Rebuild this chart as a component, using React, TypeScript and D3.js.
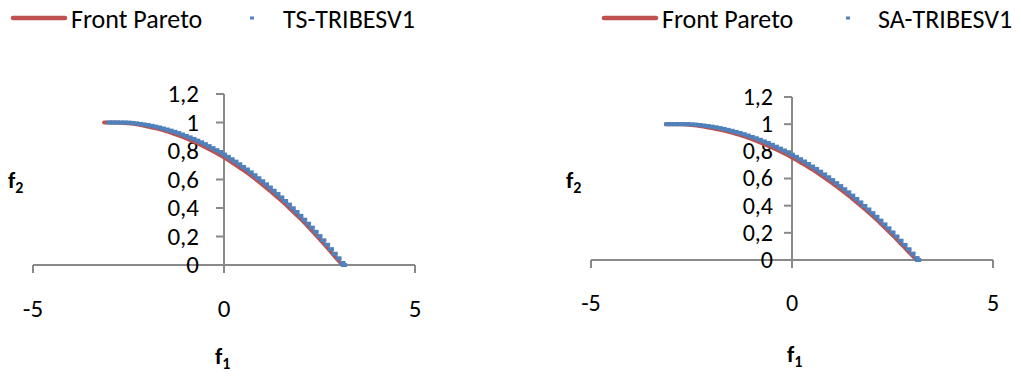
import React from "react";
import * as d3 from "d3";

const W = 1021;
const H = 381;

// Front Pareto [f1, f2]
const frontX = [-3.14, -3.0, -2.75, -2.5, -2.25, -2.0, -1.75, -1.5, -1.25, -1.0, -0.75, -0.5, -0.25, 0, 0.25, 0.5, 0.75, 1.0, 1.25, 1.5, 1.75, 2.0, 2.25, 2.5, 2.75, 3.0, 3.1];
const frontY = [1.0, 1.0, 0.999, 0.994, 0.985, 0.972, 0.957, 0.938, 0.915, 0.89, 0.861, 0.828, 0.793, 0.755, 0.712, 0.667, 0.618, 0.566, 0.51, 0.452, 0.39, 0.325, 0.256, 0.183, 0.107, 0.03, 0.0];

// TS-TRIBESV1 solutions
const tsX = [-3.0, -2.9, -2.8, -2.7, -2.6, -2.5, -2.4, -2.3, -2.2, -2.1, -2.0, -1.9, -1.8, -1.7, -1.6, -1.5, -1.4, -1.3, -1.2, -1.1, -1.0, -0.9, -0.8, -0.7, -0.6, -0.5, -0.4, -0.3, -0.2, -0.1, 0.0, 0.1, 0.2, 0.3, 0.4, 0.5, 0.6, 0.7, 0.8, 0.9, 1.0, 1.1, 1.2, 1.3, 1.4, 1.5, 1.6, 1.7, 1.8, 1.9, 2.0, 2.1, 2.2, 2.3, 2.4, 2.5, 2.6, 2.7, 2.8, 2.9, 3.0, 3.1, 3.14];
const tsY = [1.0, 1.0, 1.0, 1.0, 1.0, 0.999, 0.997, 0.994, 0.99, 0.986, 0.982, 0.977, 0.971, 0.965, 0.958, 0.951, 0.943, 0.935, 0.926, 0.916, 0.906, 0.896, 0.885, 0.873, 0.861, 0.848, 0.834, 0.82, 0.806, 0.791, 0.775, 0.759, 0.742, 0.725, 0.707, 0.688, 0.67, 0.65, 0.63, 0.609, 0.588, 0.566, 0.544, 0.521, 0.498, 0.474, 0.449, 0.424, 0.398, 0.372, 0.345, 0.318, 0.29, 0.262, 0.233, 0.203, 0.173, 0.142, 0.111, 0.079, 0.047, 0.014, 0.0];

// SA-TRIBESV1 solutions
const saX = [-3.1, -3.0, -2.9, -2.8, -2.7, -2.6, -2.5, -2.4, -2.3, -2.2, -2.1, -2.0, -1.9, -1.8, -1.7, -1.6, -1.5, -1.4, -1.3, -1.2, -1.1, -1.0, -0.9, -0.8, -0.7, -0.6, -0.5, -0.4, -0.3, -0.2, -0.1, 0.0, 0.1, 0.2, 0.3, 0.4, 0.5, 0.6, 0.7, 0.8, 0.9, 1.0, 1.1, 1.2, 1.3, 1.4, 1.5, 1.6, 1.7, 1.8, 1.9, 2.0, 2.1, 2.2, 2.3, 2.4, 2.5, 2.6, 2.7, 2.8, 2.9, 3.0, 3.1, 3.14];
const saY = [1.0, 1.0, 1.0, 1.0, 1.0, 1.0, 0.999, 0.997, 0.994, 0.99, 0.986, 0.982, 0.977, 0.971, 0.965, 0.958, 0.951, 0.943, 0.935, 0.926, 0.916, 0.906, 0.896, 0.885, 0.873, 0.861, 0.848, 0.834, 0.82, 0.806, 0.791, 0.775, 0.759, 0.742, 0.725, 0.707, 0.688, 0.67, 0.65, 0.63, 0.609, 0.588, 0.566, 0.544, 0.521, 0.498, 0.474, 0.449, 0.424, 0.398, 0.372, 0.345, 0.318, 0.29, 0.262, 0.233, 0.203, 0.173, 0.142, 0.111, 0.079, 0.047, 0.014, 0.0];

const xTicks = [-5, 0, 5];
const xTickLabels = ["-5", "0", "5"];
const yTicks = [0, 0.2, 0.4, 0.6, 0.8, 1.0, 1.2];
const yTickLabels = ["0", "0,2", "0,4", "0,6", "0,8", "1", "1,2"];

const RED = "#C0504D";
const BLUE = "#4F81BD";
const AXIS = "#898989";
const FONT = "Carlito, Calibri, Lato, sans-serif";

type PanelProps = {
  xRange: [number, number];
  yRange: [number, number];
  seriesName: string;
  sx: number[];
  sy: number[];
  legendX: number[]; // redStart, redEnd, text1, dash, text2
  f2Pos: [number, number];
  f1Pos: [number, number];
  xLabelBase: number;
  yLabelGap: number;
  tickFont: number;
};

function Panel(p: PanelProps) {
  const x = d3.scaleLinear().domain([-5, 5]).range(p.xRange);
  const y = d3.scaleLinear().domain([0, 1.2]).range(p.yRange);
  const front = frontX.map((v, i) => [v, frontY[i]] as [number, number]);
  const line = d3
    .line<[number, number]>()
    .x((d) => x(d[0]))
    .y((d) => y(d[1]))
    .curve(d3.curveMonotoneX);
  const x0 = x(0);
  const y0 = y(0);
  const [rs, re, t1, dash, t2] = p.legendX;
  return (
    <g>
      {/* legend */}
      <line x1={rs} x2={re} y1={18} y2={18} stroke={RED} strokeWidth={4.5} strokeLinecap="round" />
      <text x={t1} y={28} fontFamily={FONT} fontSize={26} fill="#000">Front Pareto</text>
      <rect x={dash - 2} y={16.5} width={4} height={3} fill={BLUE} />
      <text x={t2} y={28} fontFamily={FONT} fontSize={26} fill="#000">{p.seriesName}</text>

      {/* axes */}
      <line x1={x0} x2={x0} y1={y(0)} y2={y(1.2)} stroke={AXIS} strokeWidth={2} />
      {yTicks.map((t) => (
        <line key={"yt" + t} x1={x0 - 8} x2={x0} y1={y(t)} y2={y(t)} stroke={AXIS} strokeWidth={2} />
      ))}
      <line x1={x(-5)} x2={x(5)} y1={y0} y2={y0} stroke={AXIS} strokeWidth={2} />
      {xTicks.map((t) => (
        <line key={"xt" + t} x1={x(t)} x2={x(t)} y1={y0} y2={y0 + 8} stroke={AXIS} strokeWidth={2} />
      ))}
      {yTicks.map((t, i) => (
        <text
          key={"yl" + t}
          x={x0 - p.yLabelGap}
          y={y(t)}
          dy="0.33em"
          textAnchor="end"
          fontFamily={FONT}
          fontSize={p.tickFont}
          fill="#000"
        >
          {yTickLabels[i]}
        </text>
      ))}
      {xTicks.map((t, i) => (
        <text
          key={"xl" + t}
          x={x(t)}
          y={p.xLabelBase}
          textAnchor="middle"
          fontFamily={FONT}
          fontSize={p.tickFont}
          fill="#000"
        >
          {xTickLabels[i]}
        </text>
      ))}

      {/* axis titles */}
      <text x={p.f2Pos[0]} y={p.f2Pos[1]} fontFamily={FONT} fontSize={23} fontWeight="bold" fill="#000">
        f<tspan fontSize={16} dy={5}>2</tspan>
      </text>
      <text x={p.f1Pos[0]} y={p.f1Pos[1]} fontFamily={FONT} fontSize={23} fontWeight="bold" fill="#000">
        f<tspan fontSize={16} dy={5}>1</tspan>
      </text>

      {/* series */}
      <path d={line(front) || ""} fill="none" stroke={RED} strokeWidth={4} strokeLinecap="round" />
      {p.sx.map((v, i) => (
        <rect
          key={"m" + i}
          x={x(v) - 3}
          y={y(p.sy[i]) - 2}
          width={6}
          height={4}
          fill={BLUE}
        />
      ))}
    </g>
  );
}

export default function App() {
  return (
    <svg
      width={W}
      height={H}
      style={{ position: "absolute", left: 0, top: 0, background: "#fff" }}
    >
      <rect x={0} y={0} width={W} height={H} fill="#fff" />
      <Panel
        xRange={[33, 415]}
        yRange={[265, 94]}
        seriesName="TS-TRIBESV1"
        sx={tsX}
        sy={tsY}
        legendX={[13, 65, 71, 252, 283]}
        f2Pos={[8, 188]}
        f1Pos={[215, 364]}
        xLabelBase={317}
        yLabelGap={25}
        tickFont={25}
      />
      <Panel
        xRange={[591, 993]}
        yRange={[260, 97]}
        seriesName="SA-TRIBESV1"
        sx={saX}
        sy={saY}
        legendX={[604, 656, 662, 848, 878]}
        f2Pos={[566, 188]}
        f1Pos={[787, 362]}
        xLabelBase={311}
        yLabelGap={19}
        tickFont={24}
      />
    </svg>
  );
}
